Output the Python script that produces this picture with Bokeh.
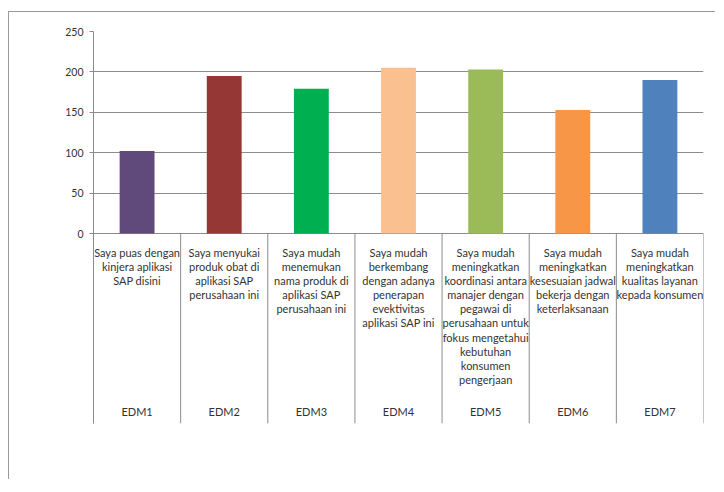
from bokeh.plotting import figure
from bokeh.models import Range1d, FixedTicker
from bokeh.core.properties import value
from bokeh.embed import file_html
from bokeh.resources import INLINE

categories = ["EDM1", "EDM2", "EDM3", "EDM4", "EDM5", "EDM6", "EDM7"]
values = [102, 195, 179, 205, 203, 153, 190]
descriptions = [
    "Saya puas dengan\nkinjera aplikasi\nSAP disini",
    "Saya menyukai\nproduk obat di\naplikasi SAP\nperusahaan ini",
    "Saya mudah\nmenemukan\nnama produk di\naplikasi SAP\nperusahaan ini",
    "Saya mudah\nberkembang\ndengan adanya\npenerapan\nevektivitas\naplikasi SAP ini",
    "Saya mudah\nmeningkatkan\nkoordinasi antara\nmanajer dengan\npegawai di\nperusahaan untuk\nfokus mengetahui\nkebutuhan\nkonsumen\npengerjaan",
    "Saya mudah\nmeningkatkan\nkesesuaian jadwal\nbekerja dengan\nketerlaksanaan",
    "Saya mudah\nmeningkatkan\nkualitas layanan\nkepada konsumen",
]
colors = ["#604A7B", "#953735", "#00B050", "#FAC090", "#9BBB59", "#F79646", "#4F81BD"]
y_ticks = [0, 50, 100, 150, 200, 250]

n = len(categories)
centers = [i + 0.5 for i in range(n)]
bounds = list(range(n + 1))

px_per_unit = 202 / 250.0
table_px = 190
y_bottom = -table_px / px_per_unit

FONT = value("Lato")

p = figure(width=707, height=468, output_backend="svg", toolbar_location=None,
           x_range=Range1d(0, n), y_range=Range1d(y_bottom, 250),
           min_border_left=84, min_border_right=13, min_border_top=19, min_border_bottom=57)
p.margin = (11, 0, 0, 8)
p.styles = {"border-top": "1px solid #9a9a9a", "border-left": "1px solid #9a9a9a"}
p.outline_line_color = None
p.background_fill_color = "white"
p.border_fill_color = "white"

p.xaxis.visible = False
p.xgrid.visible = False

p.yaxis.ticker = FixedTicker(ticks=y_ticks)
p.yaxis.minor_tick_line_color = None
p.yaxis.major_tick_in = 0
p.yaxis.major_tick_out = 4
p.yaxis.major_tick_line_color = "#8c8c8c"
p.yaxis.axis_line_color = "#8c8c8c"
p.yaxis.major_label_standoff = 6
p.yaxis.major_label_text_font = "Lato"
p.yaxis.major_label_text_font_size = "10.5px"
p.yaxis.major_label_text_color = "#333333"
p.ygrid.ticker = FixedTicker(ticks=y_ticks)
p.ygrid.grid_line_color = "#8c8c8c"
p.ygrid.grid_line_width = 1

p.vbar(x=centers, top=values, bottom=0, width=0.4, fill_color=colors, line_color=None)

# table separators below the category axis
p.segment(x0=bounds, y0=[0] * (n + 1), x1=bounds, y1=[y_bottom] * (n + 1),
          line_color="#8c8c8c", line_width=1)

p.text(x=centers, y=[-12 / px_per_unit] * n, text=descriptions, text_align="center",
       text_baseline="top", text_font=FONT, text_font_size="11px",
       text_line_height=1.09, text_color="#333333")
p.text(x=centers, y=[-178 / px_per_unit] * n, text=categories, text_align="center",
       text_baseline="middle", text_font=FONT, text_font_size="11px",
       text_color="#333333")

open("out.html", "w").write(file_html(p, INLINE))
